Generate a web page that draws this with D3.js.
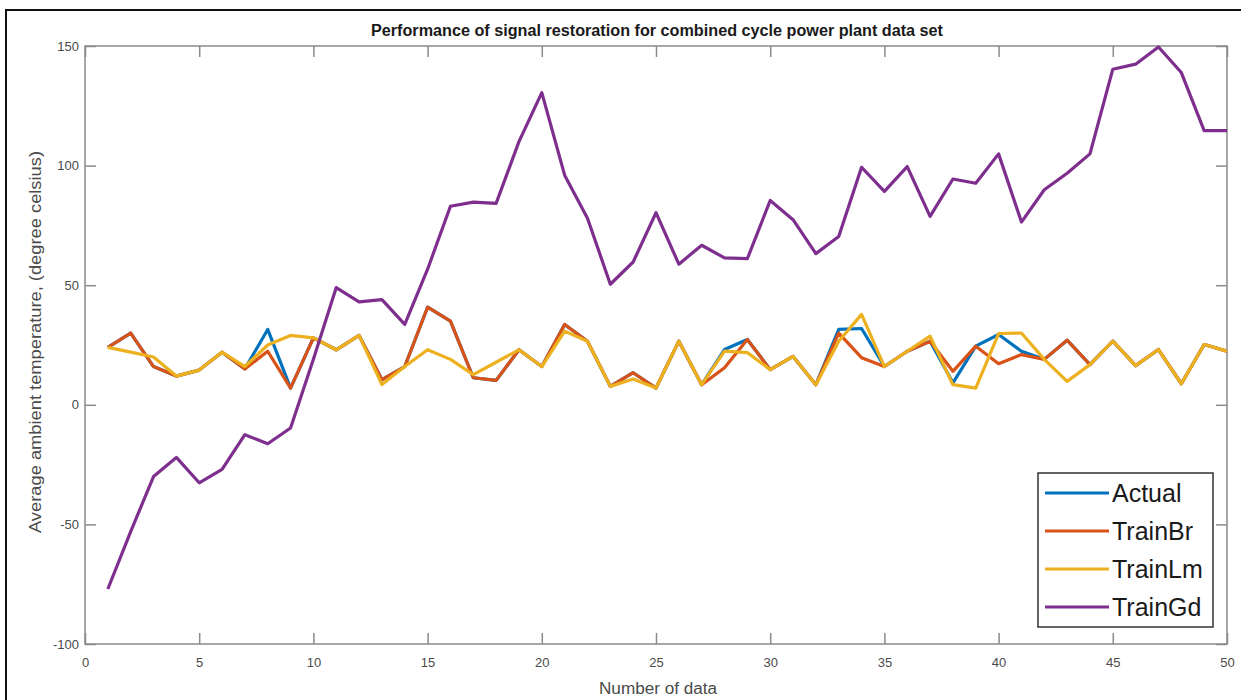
<!DOCTYPE html>
<html>
<head>
<meta charset="utf-8">
<script src="https://cdn.jsdelivr.net/npm/d3@7"></script>
<style>
  html, body { margin: 0; padding: 0; background: #fff; }
  svg { display: block; }
  text { font-family: "Liberation Sans", Arial, sans-serif; }
</style>
</head>
<body>
<svg id="chart" width="1259" height="700"></svg>
<script>
// Sample index 1..50
const xValues = d3.range(1, 51);

// Average ambient temperature (degree celsius) per sample
const actual = [24, 30, 16, 12, 14.5, 22, 15, 31.5, 7, 28,
                23, 29, 10.5, 16, 40.8, 35, 11.3, 10.2, 23, 16,
                33.6, 26.6, 7.7, 13.4, 7, 26.6, 8.4, 23.1, 27.3, 14.7,
                20.2, 8.4, 31.5, 31.9, 16, 22.4, 26.6, 9.2, 24.5, 29.4,
                22.4, 19, 27, 16.8, 26.6, 16.4, 23.1, 8.8, 25.2, 22.4];
const trainBr = [24, 30, 16, 12, 14.5, 22, 15, 22.4, 7, 28,
                 23, 29, 10.5, 16, 40.8, 35, 11.3, 10.2, 23, 16,
                 33.6, 26.6, 7.7, 13.4, 7, 26.6, 8.4, 15.5, 27.3, 14.7,
                 20.2, 8.4, 30, 19.7, 16, 22.4, 26.6, 14, 24.5, 17.2,
                 21, 19, 27, 16.8, 26.6, 16.4, 23.1, 8.8, 25.2, 22.4];
const trainLm = [24, 22, 20, 12, 14.5, 22, 16, 25, 29, 28,
                 23, 29, 8.5, 16, 23, 19, 12.6, 17.8, 23, 16,
                 30.8, 26.6, 7.7, 10.8, 7, 26.6, 8.4, 22.4, 21.8, 14.7,
                 20.2, 8.4, 26.6, 37.8, 16, 22.4, 28.7, 8.4, 7, 29.8,
                 30, 19, 9.8, 16.8, 26.6, 16.4, 23.1, 8.8, 25.2, 22.4];
const trainGd = [-77, -53, -30, -22, -32.6, -27, -12.5, -16.3, -9.7, 19,
                 49, 43, 44, 33.6, 56.7, 83, 84.7, 84.2, 110, 130.5,
                 96, 78, 50.4, 59.7, 80.3, 58.8, 66.7, 61.4, 61.1, 85.4,
                 77.4, 63.2, 70.4, 99.3, 89.2, 99.6, 78.75, 94.4, 92.6, 104.9,
                 76.4, 89.9, 96.8, 104.9, 140.3, 142.4, 149.6, 138.9, 114.6, 114.6];

const seriesNames = ["Actual", "TrainBr", "TrainLm", "TrainGd"];
const seriesColors = ["#0072BD", "#D95319", "#EDB120", "#7E2F8E"];
const seriesValues = [actual, trainBr, trainLm, trainGd];

const xTicks = [0, 5, 10, 15, 20, 25, 30, 35, 40, 45, 50];
const yTicks = [-100, -50, 0, 50, 100, 150];

const titleText = "Performance of signal restoration for combined cycle power plant data set";
const xLabelText = "Number of data";
const yLabelText = "Average ambient temperature, (degree celsius)";

const svg = d3.select("#chart");
const plot = { left: 85, right: 1227, top: 46, bottom: 644 };

const x = d3.scaleLinear().domain([0, 50]).range([plot.left, plot.right]);
const y = d3.scaleLinear().domain([-100, 150]).range([plot.bottom, plot.top]);

// Plain ASCII tick text (hyphen-minus for negatives)
const plainFormat = d => String(d);

// Outer figure frame
svg.append("path")
  .attr("d", "M6,700 L6,10 L1241,10")
  .attr("fill", "none").attr("stroke", "#111").attr("stroke-width", 2);

// Axes box
svg.append("rect")
  .attr("x", plot.left).attr("y", plot.top)
  .attr("width", plot.right - plot.left).attr("height", plot.bottom - plot.top)
  .attr("fill", "#fff").attr("stroke", "#8a8a8a").attr("stroke-width", 1.5);

const tickLen = 11;
const axisColor = "#8a8a8a";
const labelColor = "#4a4a4a";

function styleAxis(g) {
  g.select(".domain").remove();
  g.selectAll(".tick line").attr("stroke", axisColor).attr("stroke-width", 1.5);
  g.selectAll(".tick text").attr("fill", labelColor).attr("font-size", 13)
    .attr("font-family", "Liberation Sans, Arial, sans-serif");
}

// Bottom axis with inward ticks and labels
svg.append("g")
  .attr("transform", `translate(0,${plot.bottom})`)
  .call(d3.axisBottom(x).tickValues(xTicks).tickFormat(plainFormat)
    .tickSizeInner(-tickLen).tickSizeOuter(0).tickPadding(14))
  .call(styleAxis);

// Top axis ticks (no labels)
svg.append("g")
  .attr("transform", `translate(0,${plot.top})`)
  .call(d3.axisTop(x).tickValues(xTicks).tickSizeInner(-tickLen).tickSizeOuter(0).tickFormat(""))
  .call(styleAxis);

// Left axis
svg.append("g")
  .attr("transform", `translate(${plot.left},0)`)
  .call(d3.axisLeft(y).tickValues(yTicks).tickFormat(plainFormat)
    .tickSizeInner(-tickLen).tickSizeOuter(0).tickPadding(6))
  .call(styleAxis);

// Right axis ticks (no labels)
svg.append("g")
  .attr("transform", `translate(${plot.right},0)`)
  .call(d3.axisRight(y).tickValues(yTicks).tickSizeInner(-tickLen).tickSizeOuter(0).tickFormat(""))
  .call(styleAxis);

// Series lines
const line = d3.line()
  .x((d, i) => x(xValues[i]))
  .y(d => y(d));

svg.append("clipPath").attr("id", "plotClip")
  .append("rect")
  .attr("x", plot.left).attr("y", plot.top - 2)
  .attr("width", plot.right - plot.left).attr("height", plot.bottom - plot.top + 4);

svg.append("g").attr("clip-path", "url(#plotClip)")
  .selectAll("path.series")
  .data(seriesValues)
  .join("path")
  .attr("class", "series")
  .attr("d", d => line(d))
  .attr("fill", "none")
  .attr("stroke", (d, i) => seriesColors[i])
  .attr("stroke-width", 3.2)
  .attr("stroke-linejoin", "round");

// Title
svg.append("text")
  .attr("x", (plot.left + plot.right) / 2 + 1).attr("y", 36)
  .attr("text-anchor", "middle")
  .attr("font-size", 16).attr("font-weight", "bold").attr("fill", "#1a1a1a")
  .attr("textLength", 572).attr("lengthAdjust", "spacingAndGlyphs")
  .text(titleText);

// Axis labels
svg.append("text")
  .attr("x", (plot.left + plot.right) / 2 + 2).attr("y", 694)
  .attr("text-anchor", "middle")
  .attr("font-size", 16).attr("fill", labelColor)
  .attr("textLength", 118).attr("lengthAdjust", "spacingAndGlyphs")
  .text(xLabelText);

svg.append("text")
  .attr("transform", `translate(41,${(plot.top + plot.bottom) / 2 - 3}) rotate(-90)`)
  .attr("text-anchor", "middle")
  .attr("font-size", 17).attr("fill", labelColor)
  .attr("textLength", 382).attr("lengthAdjust", "spacingAndGlyphs")
  .text(yLabelText);

// Legend
const legend = { x: 1038, y: 473, w: 175, h: 154 };
const lg = svg.append("g");
lg.append("rect")
  .attr("x", legend.x).attr("y", legend.y)
  .attr("width", legend.w).attr("height", legend.h)
  .attr("fill", "#fff").attr("stroke", "#333").attr("stroke-width", 1.5);

const rowY = d3.scalePoint().domain(seriesNames).range([493, 607]);
const items = lg.selectAll("g.item").data(seriesNames).join("g")
  .attr("class", "item")
  .attr("transform", d => `translate(0,${rowY(d)})`);
items.append("line")
  .attr("x1", legend.x + 7).attr("x2", legend.x + 71)
  .attr("stroke", (d, i) => seriesColors[i]).attr("stroke-width", 3.2);
items.append("text")
  .attr("x", legend.x + 74).attr("y", 9)
  .attr("font-size", 25).attr("fill", "#1a1a1a")
  .text(d => d);
</script>
</body>
</html>
